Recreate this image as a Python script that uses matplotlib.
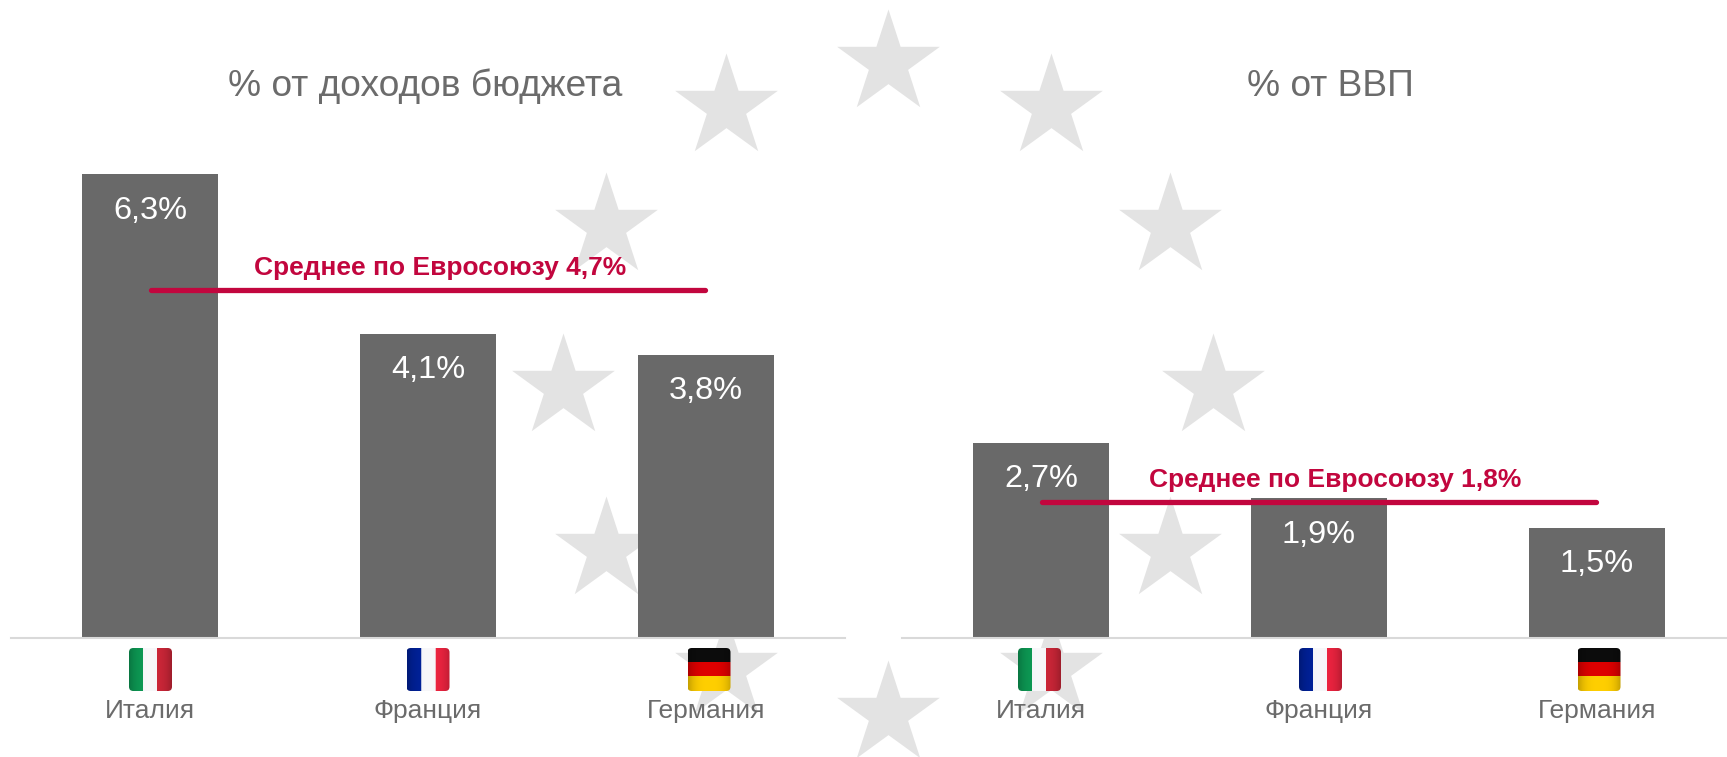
import numpy as np
import matplotlib
matplotlib.use("Agg")
import matplotlib.pyplot as plt
from matplotlib.patches import FancyBboxPatch

plt.rcParams['font.family'] = ['Liberation Sans', 'DejaVu Sans']

countries = ['Италия', 'Франция', 'Германия']
flags = ['it', 'fr', 'de']
budget_vals = [6.3, 4.13, 3.85]
gdp_vals = [2.65, 1.9, 1.5]
budget_labels = ['6,3%', '4,1%', '3,8%']
gdp_labels = ['2,7%', '1,9%', '1,5%']
titles = ['% от доходов бюджета', '% от ВВП']
title_x = [0.99, 1.04]
avg_labels = ['Среднее по Евросоюзу 4,7%', 'Среднее по Евросоюзу 1,8%']
avg_levels = [4.73, 1.85]

# star centres, pixels of the 1727x757 picture
star_x = [888, 726, 1051, 606, 1170, 563, 1213, 606, 1170, 726, 1051, 888]
star_y = [63, 107, 107, 226, 226, 387, 387, 550, 550, 669, 669, 714]

# flag centres, pixels
flag_cx = [[150.5, 428, 709], [1039.5, 1320.5, 1599]]

GREY = '#696969'
TEXT = '#6b6b6b'
RED = '#c2063e'
W, H = 1727, 757
BASE = 638
PX_PER_UNIT = 73.6

fig = plt.figure(figsize=(W / 100, H / 100), dpi=100, facecolor='white')

bg = fig.add_axes([0, 0, 1, 1], zorder=0)
bg.set_xlim(0, W)
bg.set_ylim(H, 0)
bg.axis('off')
bg.scatter(star_x, star_y, marker='*', s=6050, color='#e3e3e3', linewidths=0)


def flag_image(code):
    if code == 'it':
        cols = [(0.05, 0.6, 0.33), (0.97, 0.97, 0.98), (0.8, 0.15, 0.22)]
    elif code == 'fr':
        cols = [(0.0, 0.13, 0.6), (0.97, 0.97, 0.98), (0.93, 0.14, 0.25)]
    else:
        cols = [(0.05, 0.05, 0.05), (0.87, 0.0, 0.0), (1.0, 0.81, 0.0)]
    img = np.zeros((43, 43, 3))
    for i in range(3):
        if code == 'de':
            img[i * 43 // 3:(i + 1) * 43 // 3, :] = cols[i]
        else:
            img[:, i * 43 // 3:(i + 1) * 43 // 3] = cols[i]
    # soft shading towards the edges, like the glossy icons
    shade = 1 - 0.22 * np.abs(np.linspace(-1, 1, 43)) ** 3
    return np.clip(img * shade[None, :, None], 0, 1)


def add_flag(code, cx):
    fa = fig.add_axes([(cx - 21.5) / W, 1 - 691 / H, 43 / W, 43 / H], zorder=3)
    fa.axis('off')
    im = fa.imshow(flag_image(code), extent=(0, 1, 0, 1), aspect='auto')
    clip = FancyBboxPatch((0, 0), 1, 1, boxstyle='round,pad=0,rounding_size=0.1',
                          transform=fa.transAxes, facecolor='none', edgecolor='none')
    fa.add_patch(clip)
    im.set_clip_path(clip)


def panel(left, vals, labels, title, tx, avg_text, avg_level, avg_tx, centres):
    ax = fig.add_axes([left / W, 1 - BASE / H, 834 / W, 7.5 * PX_PER_UNIT / H], zorder=1)
    ax.patch.set_alpha(0)
    x = np.arange(len(countries))
    bars = ax.bar(x, vals, width=0.488, color=GREY, zorder=2)
    ax.bar_label(bars, labels=labels, padding=-37, color='white', fontsize=23.4)
    ax.plot([0.002, 1.998], [avg_level, avg_level], color=RED, lw=3.8,
            solid_capstyle='round', zorder=3)
    ax.text(avg_tx, avg_level + 0.30, avg_text, color=RED, fontsize=19,
            fontweight='bold', ha='center', va='center', zorder=4)
    ax.text(tx, 7.5, title, color=TEXT, fontsize=26.7, ha='center', va='center')
    ax.set_xlim(-0.5, 2.5)
    ax.set_ylim(0, 7.5)
    ax.set_xticks(x)
    ax.set_xticklabels(countries, color=TEXT, fontsize=19)
    ax.tick_params(axis='x', length=0, pad=44)
    ax.set_yticks([])
    for s in ['top', 'left', 'right']:
        ax.spines[s].set_visible(False)
    ax.spines['bottom'].set_color('#d9d9d9')
    ax.spines['bottom'].set_linewidth(1.5)
    for code, cx in zip(flags, centres):
        add_flag(code, cx)


panel(11, budget_vals, budget_labels, titles[0], title_x[0], avg_labels[0], avg_levels[0], 1.045, flag_cx[0])
panel(902, gdp_vals, gdp_labels, titles[1], title_x[1], avg_labels[1], avg_levels[1], 1.06, flag_cx[1])

fig.savefig('out.png', dpi=100, facecolor='white')
